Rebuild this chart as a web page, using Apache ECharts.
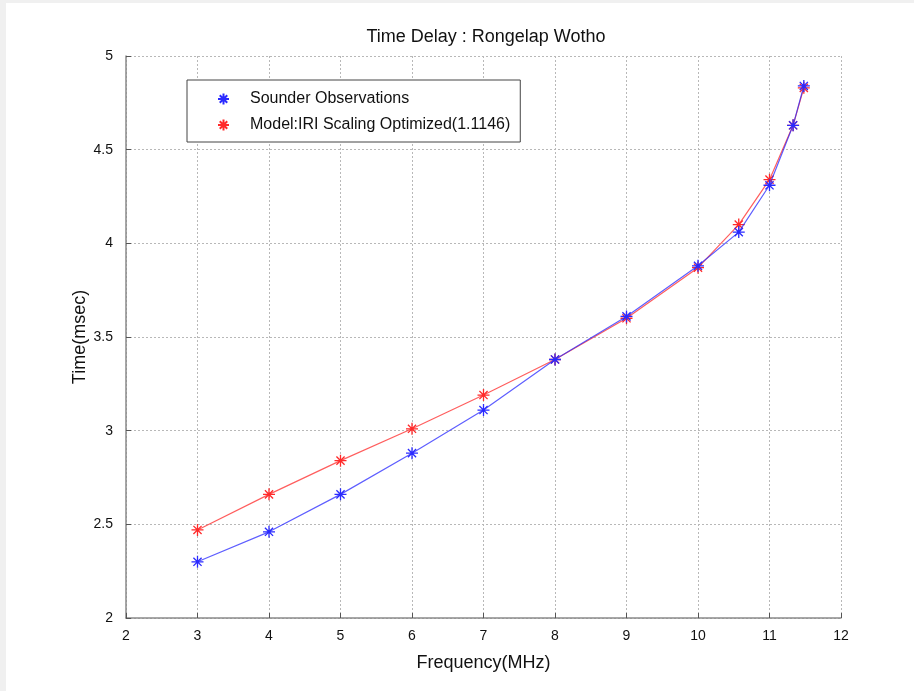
<!DOCTYPE html>
<html>
<head>
<meta charset="utf-8">
<script src="https://cdn.jsdelivr.net/npm/echarts@6/dist/echarts.min.js"></script>
<style>
  html, body { margin: 0; padding: 0; background: #ffffff; }
  #chart { width: 914px; height: 691px; }
</style>
</head>
<body>
<div id="chart"></div>
<script>
// Sounding frequencies (MHz)
const frequency = [3, 4, 5, 6, 7, 8, 9, 10, 10.57, 11, 11.33, 11.48];
// Observed group delay (msec)
const sounderObs = [2.30, 2.46, 2.66, 2.88, 3.11, 3.38, 3.61, 3.88, 4.06, 4.31, 4.63, 4.84];
// Model delay, IRI scaled by optimized factor (msec)
const modelIri = [2.47, 2.66, 2.84, 3.01, 3.19, 3.38, 3.60, 3.87, 4.10, 4.34, 4.63, 4.83];

const xTicks = [2, 3, 4, 5, 6, 7, 8, 9, 10, 11, 12];
const yTicks = [2, 2.5, 3, 3.5, 4, 4.5, 5];

const seriesNames = ['Sounder Observations', 'Model:IRI Scaling Optimized(1.1146)'];

// eight-armed star marker
const starPath = 'path://M5,0L5,10M0,5L10,5M1.6,1.6L8.4,8.4M8.4,1.6L1.6,8.4';

const font = '"Liberation Sans", Arial, sans-serif';

function pairs(xs, ys) {
  return xs.map((x, i) => [x, ys[i]]);
}

const chart = echarts.init(document.getElementById('chart'));
chart.setOption({
  backgroundColor: '#ffffff',
  animation: false,
  title: {
    text: 'Time Delay : Rongelap Wotho',
    left: 481, top: 23, textAlign: 'center',
    textStyle: { fontFamily: font, fontSize: 18, fontWeight: 'normal', color: '#111' }
  },
  graphic: [
    { type: 'rect', shape: { x: 0, y: 0, width: 6, height: 691 }, style: { fill: '#f0f0f0' }, silent: true },
    { type: 'rect', shape: { x: 0, y: 0, width: 914, height: 3 }, style: { fill: '#f0f0f0' }, silent: true }
  ],
  legend: {
    orient: 'vertical',
    left: 187, top: 80,
    data: seriesNames,
    backgroundColor: '#ffffff',
    borderColor: '#444',
    borderWidth: 1,
    padding: [11, 10, 9, 30],
    itemGap: 10,
    itemWidth: 11, itemHeight: 11,
    icon: starPath,
    textStyle: { fontFamily: font, fontSize: 16, color: '#111', padding: [0, 0, 0, 16] }
  },
  grid: { left: 126, right: 73, top: 56, bottom: 73, containLabel: false },
  xAxis: {
    type: 'value', min: 2, max: 12, interval: 1,
    name: 'Frequency(MHz)', nameLocation: 'middle', nameGap: 36,
    nameMoveOverlap: false,
    nameTextStyle: { fontFamily: font, fontSize: 18, color: '#111' },
    axisLine: { show: true, onZero: false, lineStyle: { color: '#8a8a8a', width: 1.5 } },
    axisTick: { show: true, inside: true, length: 5, lineStyle: { color: '#555' } },
    axisLabel: { fontFamily: font, fontSize: 14, color: '#111', margin: 11,
      formatter: v => xTicks.includes(v) ? String(v) : '' },
    splitLine: { show: true, lineStyle: { color: '#b8b8b8', type: [2, 2], width: 1 } }
  },
  yAxis: {
    type: 'value', min: 2, max: 5, interval: 0.5,
    name: 'Time(msec)', nameLocation: 'middle', nameGap: 37, nameRotate: 90,
    nameMoveOverlap: false,
    nameTextStyle: { fontFamily: font, fontSize: 18, color: '#111' },
    axisLine: { show: true, onZero: false, lineStyle: { color: '#8a8a8a', width: 1.5 } },
    axisTick: { show: true, inside: true, length: 5, lineStyle: { color: '#555' } },
    axisLabel: { fontFamily: font, fontSize: 14, color: '#111', margin: 13,
      formatter: v => yTicks.includes(v) ? String(v) : '' },
    splitLine: { show: true, lineStyle: { color: '#b8b8b8', type: [2, 2], width: 1 } }
  },
  series: [
    {
      name: seriesNames[0],
      type: 'line',
      data: pairs(frequency, sounderObs),
      symbol: starPath, symbolSize: 12,
      lineStyle: { color: 'rgba(40,40,255,0.75)', width: 1.2 },
      itemStyle: { color: 'rgba(0,0,0,0)', borderColor: '#2a2aff', borderWidth: 1.3 },
      z: 3
    },
    {
      name: seriesNames[1],
      type: 'line',
      data: pairs(frequency, modelIri),
      symbol: starPath, symbolSize: 12,
      lineStyle: { color: 'rgba(255,40,40,0.75)', width: 1.2 },
      itemStyle: { color: 'rgba(0,0,0,0)', borderColor: '#ff2a2a', borderWidth: 1.3 },
      z: 2
    }
  ]
});
</script>
</body>
</html>
